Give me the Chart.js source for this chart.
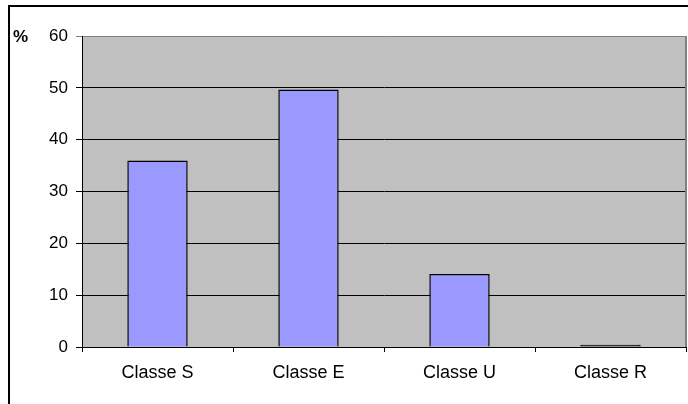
<!DOCTYPE html>
<html>
<head>
<meta charset="utf-8">
<script src="https://cdn.jsdelivr.net/npm/chart.js@4/dist/chart.umd.min.js"></script>
<style>
  body { margin: 0; background: #fff; }
  #box { width: 688px; height: 404px; }
</style>
</head>
<body>
<div id="box"><canvas id="grafico" width="688" height="404"></canvas></div>
<script>
const classes = ['Classe S', 'Classe E', 'Classe U', 'Classe R']
const percentuali = [36, 49.7, 14.1, 0.45]
const yTicks = [0, 10, 20, 30, 40, 50, 60]

// sfondo grigio e cornice
const cornice = {
    id: 'cornice',
    beforeDraw(chart) {
        const { ctx, chartArea: a } = chart
        ctx.save()
        ctx.fillStyle = '#c0c0c0'
        ctx.fillRect(a.left, a.top, a.right - a.left, a.bottom - a.top)
        ctx.restore()
    },
    afterDraw(chart) {
        const { ctx, chartArea: a } = chart
        ctx.save()
        ctx.fillStyle = '#000'
        ctx.fillRect(8, 5, 680, 2)
        ctx.fillRect(8, 5, 2, 399)
        ctx.fillStyle = '#808080'
        ctx.fillRect(a.right - 1, a.top, 2, a.bottom - a.top)
        ctx.fillStyle = '#000'
        ctx.font = 'bold 17px "Liberation Sans", Arial, sans-serif'
        ctx.textAlign = 'left'
        ctx.textBaseline = 'middle'
        ctx.fillText('%', 13, 37)
        ctx.restore()
    }
}

new Chart(document.getElementById('grafico'), {
    type: 'bar',
    data: {
        labels: classes,
        datasets: [{
            data: percentuali,
            // la barra quasi vuota si vede solo come bordo nero
            backgroundColor: ctx => ctx.raw < 1 ? '#000' : '#9999ff',
            borderColor: '#000',
            borderWidth: 1.5,
            categoryPercentage: 1,
            barPercentage: 0.4
        }]
    },
    options: {
        responsive: false,
        animation: false,
        events: [],
        layout: { padding: { left: 0, top: 36, right: 2, bottom: 0 } },
        plugins: {
            legend: { display: false },
            tooltip: { enabled: false }
        },
        scales: {
            x: {
                grid: { drawOnChartArea: false, offset: true, tickLength: 5, color: '#000' },
                border: { color: '#000', width: 1 },
                ticks: {
                    color: '#000',
                    padding: 10,
                    font: { family: '"Liberation Sans", Arial, sans-serif', size: 18 }
                },
                afterFit(scale) { scale.height = 57 }
            },
            y: {
                min: 0,
                max: 60,
                afterBuildTicks(scale) { scale.ticks = yTicks.map(v => ({ value: v })) },
                grid: {
                    tickLength: 6,
                    color: ctx => ctx.tick && ctx.tick.value === 60 ? '#808080' : '#000'
                },
                border: { color: '#000', width: 1 },
                ticks: {
                    color: '#000',
                    padding: 8,
                    font: { family: '"Liberation Sans", Arial, sans-serif', size: 17 }
                },
                afterFit(scale) { scale.width = 82 }
            }
        }
    },
    plugins: [cornice]
})
</script>
</body>
</html>
